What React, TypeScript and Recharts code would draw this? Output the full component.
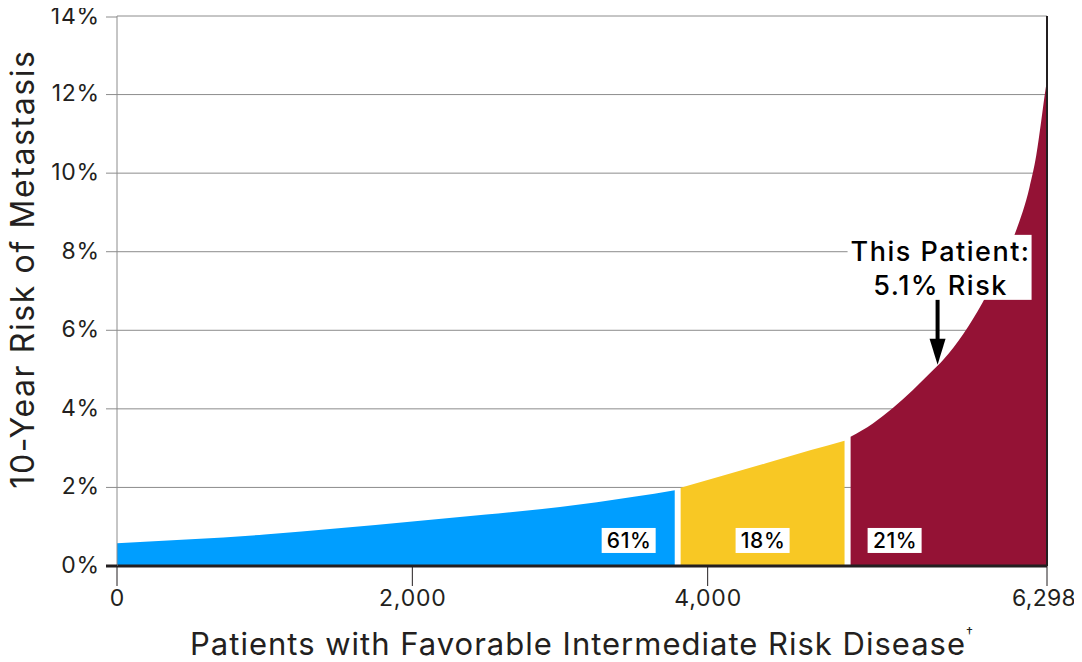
import { AreaChart, Area, XAxis, YAxis, CartesianGrid, ReferenceLine, ReferenceDot } from 'recharts'

// patients (x) vs 10-year risk of metastasis in % (y)
const lowX = [0, 500, 1000, 1500, 2000, 2500, 3000, 3500, 3777]
const lowY = [0.58, 0.68, 0.8, 0.96, 1.13, 1.31, 1.5, 1.76, 1.93]

const midX = [3817, 4100, 4400, 4700, 4927]
const midY = [1.99, 2.3, 2.62, 2.95, 3.19]

const highX = [4968, 5119, 5254, 5390, 5503, 5600, 5730, 5861, 5980, 6085, 6180, 6225, 6258, 6281, 6298]
const highY = [3.29, 3.63, 4.02, 4.48, 4.9, 5.27, 5.9, 6.7, 7.6, 8.5, 9.65, 10.45, 11.3, 11.95, 12.37]

const xTicks = [0, 2000, 4000, 6298]
const yTicks = [0, 2, 4, 6, 8, 10, 12, 14]

const shareLabels = ['61%', '18%', '21%']
const shareX = [3465, 4372, 5266]
const shareY = [0.65, 0.65, 0.65]

const patientX = 5557
const patientY = 5.12

const toPoints = (xs: number[], ys: number[]) => xs.map((x, i) => ({ x, y: ys[i] }))

const lowData = toPoints(lowX, lowY)
const midData = toPoints(midX, midY)
const highData = toPoints(highX, highY)

const INK = '#231f20'
const GRID = '#8c8c8c'

function YTick(props: any) {
  const { x, y, payload } = props
  const isZero = payload.value === 0
  return (
    <g>
      <line
        x1={x + 7}
        x2={x + 18}
        y1={y}
        y2={y}
        stroke={isZero ? INK : GRID}
        strokeWidth={isZero ? 3 : 1}
      />
      <text x={x + 1} y={y} dy="0.3em" textAnchor="end" fontSize={23} letterSpacing={0.8} fill={INK}>
        {payload.value}%
      </text>
    </g>
  )
}

function XTick(props: any) {
  const { x, y, payload } = props
  // last label sits on the page edge, nudge it in a little
  const isLast = payload.value === xTicks[xTicks.length - 1]
  return (
    <text
      x={x + (isLast ? -3 : 0.5)}
      y={y}
      dy="0.78em"
      textAnchor="middle"
      fontSize={23}
      letterSpacing={isLast ? 0.3 : 0.8}
      fill={INK}
    >
      {payload.value.toLocaleString('en-US')}
    </text>
  )
}

function ShareTag({ cx, cy, text }: { cx: number; cy: number; text: string }) {
  return (
    <g>
      <rect x={cx - 27} y={cy - 12.5} width={54} height={25} fill="#fff" />
      <text x={cx + 0.5} y={cy} dy="0.36em" textAnchor="middle" fontSize={21} fontWeight={500} letterSpacing={0.6} fill="#000">
        {text}
      </text>
    </g>
  )
}

function PatientCallout({ cx, cy }: { cx: number; cy: number }) {
  return (
    <g>
      <rect x={cx - 90} y={cy - 130} width={184} height={65} fill="#fff" />
      <text x={cx + 3} y={cy - 104} textAnchor="middle" fontSize={27} fontWeight={500} letterSpacing={1.5} fill="#000">
        This Patient:
      </text>
      <text x={cx + 3} y={cy - 70} textAnchor="middle" fontSize={27} fontWeight={500} letterSpacing={1.5} fill="#000">
        5.1% Risk
      </text>
      <line x1={cx} x2={cx} y1={cy - 65} y2={cy - 20} stroke="#000" strokeWidth={4} />
      <path d={`M ${cx - 8} ${cy - 26} L ${cx + 8} ${cy - 26} L ${cx} ${cy} Z`} fill="#000" />
    </g>
  )
}

export default function App() {
  return (
    <div style={{ fontFamily: 'Inter, sans-serif' }}>
      <AreaChart
        width={1074}
        height={654}
        margin={{ top: 8, right: 35, left: 0, bottom: 0 }}
        style={{ overflow: 'visible' }}
      >
        <CartesianGrid vertical={false} stroke={GRID} />
        <XAxis
          type="number"
          dataKey="x"
          domain={[0, 6298]}
          ticks={xTicks}
          axisLine={{ stroke: INK, strokeWidth: 3 }}
          tickLine={{ stroke: INK }}
          tickSize={20}
          tick={<XTick />}
          height={96}
          label={{
            content: ({ viewBox }: any) => (
              <text
                x={viewBox.x + viewBox.width / 2}
                y={viewBox.y + 89}
                textAnchor="middle"
                fontSize={31}
                letterSpacing={1}
                fill={INK}
              >
                Patients with Favorable Intermediate Risk Disease
                <tspan fontSize={14} dy={-17}>†</tspan>
              </text>
            ),
          }}
        />
        <YAxis
          type="number"
          domain={[0, 14]}
          ticks={yTicks}
          width={109}
          axisLine={{ stroke: GRID }}
          tickLine={false}
          tickSize={11}
          tickMargin={7}
          tick={<YTick />}
          label={{
            content: ({ viewBox }: any) => (
              <text
                x={26}
                y={viewBox.y + viewBox.height / 2 - 22}
                transform={`rotate(-90, 26, ${viewBox.y + viewBox.height / 2 - 22})`}
                textAnchor="middle"
                fontSize={32}
                letterSpacing={1.6}
                fill={INK}
              >
                10-Year Risk of Metastasis
              </text>
            ),
          }}
        />
        <Area data={lowData} dataKey="y" type="monotone" stroke="none" fill="#009eff" fillOpacity={1} isAnimationActive={false} />
        <Area data={midData} dataKey="y" type="monotone" stroke="none" fill="#f8c824" fillOpacity={1} isAnimationActive={false} />
        <Area data={highData} dataKey="y" type="monotone" stroke="none" fill="#941235" fillOpacity={1} isAnimationActive={false} />
        <ReferenceLine x={6298} stroke={INK} strokeWidth={2} />
        {shareLabels.map((s, i) => (
          <ReferenceDot
            key={s}
            x={shareX[i]}
            y={shareY[i]}
            ifOverflow="visible"
            shape={(p: any) => <ShareTag cx={p.cx} cy={p.cy} text={s} />}
          />
        ))}
        <ReferenceDot
          x={patientX}
          y={patientY}
          ifOverflow="visible"
          shape={(p: any) => <PatientCallout cx={p.cx} cy={p.cy} />}
        />
      </AreaChart>
    </div>
  )
}
